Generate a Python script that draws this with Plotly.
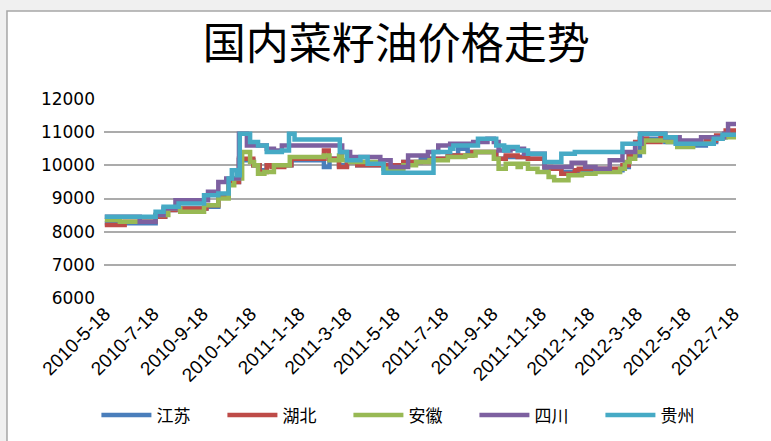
import plotly.graph_objects as go

# price series (yuan/ton), step points
jiangsu_dates = ['2010-05-18', '2010-07-21', '2010-08-02', '2010-08-15', '2010-09-23', '2010-10-08',
                 '2010-10-21', '2010-11-03', '2010-11-21', '2010-11-29', '2010-12-08', '2011-01-08',
                 '2011-02-18', '2011-02-25', '2011-03-09', '2011-03-19', '2011-04-01', '2011-05-13',
                 '2011-05-29', '2011-06-20', '2011-07-24', '2011-08-06', '2011-08-18', '2011-09-23',
                 '2011-10-05', '2011-11-02', '2011-11-23', '2011-12-14', '2012-01-05', '2012-02-29',
                 '2012-03-08', '2012-03-22', '2012-04-23', '2012-05-08', '2012-06-13', '2012-06-26',
                 '2012-07-08', '2012-07-21']
jiangsu_prices = [8250, 8450, 8650, 8700, 8750, 9050,
                  9500, 10150, 10000, 9850, 10000, 10150,
                  9950, 10200, 10000, 10100, 10000, 9950,
                  10100, 10200, 10300, 10500, 10400, 10200,
                  10250, 10200, 9900, 9800, 9850, 9950,
                  10300, 10800, 10700, 10600, 10700, 10850,
                  10950, 10950]

hubei_dates = ['2010-05-18', '2010-06-12', '2010-07-21', '2010-08-02', '2010-08-15', '2010-09-23',
               '2010-10-08', '2010-10-21', '2010-11-03', '2010-11-21', '2010-11-29', '2010-12-08',
               '2010-12-14', '2010-12-30', '2011-01-08', '2011-02-18', '2011-02-24', '2011-03-09',
               '2011-03-19', '2011-04-01', '2011-05-29', '2011-07-03', '2011-07-24', '2011-08-24',
               '2011-09-23', '2011-10-05', '2011-10-20', '2011-11-02', '2011-11-23', '2011-12-01',
               '2011-12-14', '2011-12-31', '2012-01-05', '2012-02-29', '2012-03-08', '2012-03-16',
               '2012-03-22', '2012-03-31', '2012-04-17', '2012-05-08', '2012-06-13', '2012-06-26',
               '2012-07-08', '2012-07-21']
hubei_prices = [8200, 8300, 8450, 8650, 8700, 8800,
                9100, 9500, 10200, 10000, 9800, 10000,
                9950, 10000, 10200, 10450, 10200, 9950,
                10100, 10000, 10100, 10200, 10300, 10400,
                10200, 10300, 10250, 10200, 9950, 9900,
                9750, 9850, 9900, 10000, 10300, 10700,
                10800, 10700, 10850, 10650, 10750, 10900,
                11050, 11050]

anhui_dates = ['2010-05-18', '2010-06-06', '2010-07-21', '2010-08-06', '2010-08-21', '2010-09-20',
               '2010-10-08', '2010-10-21', '2010-10-28', '2010-11-07', '2010-11-17', '2010-11-22',
               '2010-11-27', '2010-12-05', '2010-12-17', '2011-01-06', '2011-02-18', '2011-02-25',
               '2011-03-09', '2011-03-13', '2011-03-23', '2011-05-04', '2011-05-29', '2011-06-14',
               '2011-07-01', '2011-07-24', '2011-08-15', '2011-08-28', '2011-09-20', '2011-09-26',
               '2011-10-05', '2011-10-20', '2011-10-24', '2011-11-02', '2011-11-14', '2011-11-28',
               '2011-12-05', '2011-12-23', '2012-01-09', '2012-01-26', '2012-02-26', '2012-03-03',
               '2012-03-09', '2012-03-16', '2012-03-27', '2012-04-26', '2012-05-08', '2012-05-28',
               '2012-06-22', '2012-07-04', '2012-07-21']
anhui_prices = [8350, 8300, 8500, 8700, 8600, 8800,
                9000, 9400, 9600, 10400, 10100, 10000,
                9750, 9800, 10000, 10250, 10300, 10150,
                10300, 10150, 10100, 9900, 10000, 10100,
                10150, 10250, 10300, 10400, 10200, 9900,
                10050, 9950, 10050, 9900, 9800, 9650,
                9550, 9700, 9750, 9800, 9900, 10100,
                10200, 10400, 10750, 10700, 10550, 10650,
                10800, 10850, 10850]

sichuan_dates = ['2010-05-18', '2010-07-01', '2010-07-21', '2010-07-31', '2010-08-15', '2010-09-25',
                 '2010-10-08', '2010-10-18', '2010-11-03', '2010-11-13', '2010-12-08', '2010-12-17',
                 '2010-12-27', '2011-03-13', '2011-03-23', '2011-04-30', '2011-05-13', '2011-06-04',
                 '2011-06-29', '2011-07-12', '2011-07-27', '2011-08-25', '2011-09-12', '2011-09-20',
                 '2011-09-26', '2011-10-11', '2011-10-28', '2011-11-23', '2011-12-27', '2012-01-13',
                 '2012-01-26', '2012-02-13', '2012-02-29', '2012-03-16', '2012-03-24', '2012-04-23',
                 '2012-05-11', '2012-06-07', '2012-07-06', '2012-07-11', '2012-07-21']
sichuan_prices = [8450, 8300, 8500, 8700, 8950, 9200,
                  9500, 9600, 10950, 10600, 10500, 10450,
                  10600, 10400, 10250, 10150, 9950, 10300,
                  10400, 10600, 10650, 10700, 10800, 10700,
                  10450, 10500, 10350, 9950, 10080, 9950,
                  9900, 10150, 10400, 10650, 10950, 10850,
                  10750, 10850, 10950, 11250, 11250]

guizhou_dates = ['2010-05-18', '2010-07-21', '2010-07-31', '2010-08-19', '2010-09-20', '2010-10-08',
                 '2010-10-21', '2010-10-25', '2010-10-31', '2010-11-04', '2010-11-17', '2010-11-27',
                 '2010-12-08', '2010-12-27', '2011-01-05', '2011-01-12', '2011-03-10', '2011-03-19',
                 '2011-04-05', '2011-04-14', '2011-05-04', '2011-07-06', '2011-07-27', '2011-07-31',
                 '2011-08-31', '2011-09-23', '2011-10-03', '2011-10-08', '2011-10-20', '2011-11-02',
                 '2011-11-23', '2011-12-14', '2011-12-31', '2012-02-29', '2012-03-22', '2012-04-23',
                 '2012-05-06', '2012-06-23', '2012-07-04', '2012-07-21']
guizhou_prices = [8450, 8600, 8750, 8850, 9100, 9150,
                  9600, 9850, 9700, 10950, 10700, 10600,
                  10400, 10450, 10950, 10780, 10400, 10150,
                  10250, 10050, 9780, 10400, 10500, 10600,
                  10800, 10600, 10450, 10550, 10450, 10350,
                  10100, 10350, 10400, 10650, 10950, 10850,
                  10650, 10800, 10920, 10920]

tick_dates = ['2010-05-18', '2010-07-18', '2010-09-18', '2010-11-18', '2011-01-18', '2011-03-18',
              '2011-05-18', '2011-07-18', '2011-09-18', '2011-11-18', '2012-01-18', '2012-03-18',
              '2012-05-18', '2012-07-18']
tick_labels = ['2010-5-18', '2010-7-18', '2010-9-18', '2010-11-18', '2011-1-18', '2011-3-18',
               '2011-5-18', '2011-7-18', '2011-9-18', '2011-11-18', '2012-1-18', '2012-3-18',
               '2012-5-18', '2012-7-18']

series = [
    ('江苏', jiangsu_dates, jiangsu_prices, '#4a7ebb'),
    ('湖北', hubei_dates, hubei_prices, '#be4b48'),
    ('安徽', anhui_dates, anhui_prices, '#98b954'),
    ('四川', sichuan_dates, sichuan_prices, '#7d60a0'),
    ('贵州', guizhou_dates, guizhou_prices, '#46aac5'),
]

CJK = 'Noto Sans CJK SC'

fig = go.Figure()
for name, dates, prices, color in series:
    fig.add_trace(go.Scatter(
        x=dates, y=prices, name=name, mode='lines',
        line=dict(color=color, width=4.5, shape='hv'),
    ))

# white chart frame on a grey window, as in the screenshot
fig.add_shape(type='rect', xref='paper', yref='paper',
              x0=-0.1535, x1=1.08, y0=-0.75, y1=1.442,
              fillcolor='white', line=dict(color='#a6a6a6', width=1.5), layer='below')

fig.update_layout(
    template='none',
    width=771, height=441,
    margin=dict(l=104, r=35, t=99, b=143, autoexpand=False),
    paper_bgcolor='#f0f0f0',
    plot_bgcolor='rgba(0,0,0,0)',
    title=dict(text='国内菜籽油价格走势', x=0.514, xanchor='center', y=0.9, yanchor='middle',
               xref='container', yref='container',
               font=dict(family=CJK, size=43, color='black')),
    showlegend=True,
    legend=dict(orientation='h', x=-0.012, xanchor='left', y=-0.59, yanchor='middle',
                font=dict(family=CJK, size=17, color='black'),
                itemwidth=50, entrywidth=61, entrywidthmode='pixels',
                bgcolor='rgba(0,0,0,0)'),
    xaxis=dict(type='date', range=['2010-05-17', '2012-07-21'], automargin=False,
               tickmode='array', tickvals=tick_dates, ticktext=tick_labels,
               tickangle=-45, showgrid=False, zeroline=False, showline=False, ticks='',
               tickfont=dict(family='Liberation Sans', size=19, color='black')),
    yaxis=dict(range=[6000, 12000], dtick=1000, tickformat='d', automargin=False,
               showgrid=True, gridcolor='#ababab', gridwidth=1.5, zeroline=False,
               showline=False, ticks='', ticklabelstandoff=8,
               tickfont=dict(family='DejaVu Sans', size=17, color='black')),
)

# the page body has a default 8px margin; drop it so the figure sits at the window corner
fig.write_html('out.html', config={'displayModeBar': False},
               post_script="document.body.style.margin='0';")
